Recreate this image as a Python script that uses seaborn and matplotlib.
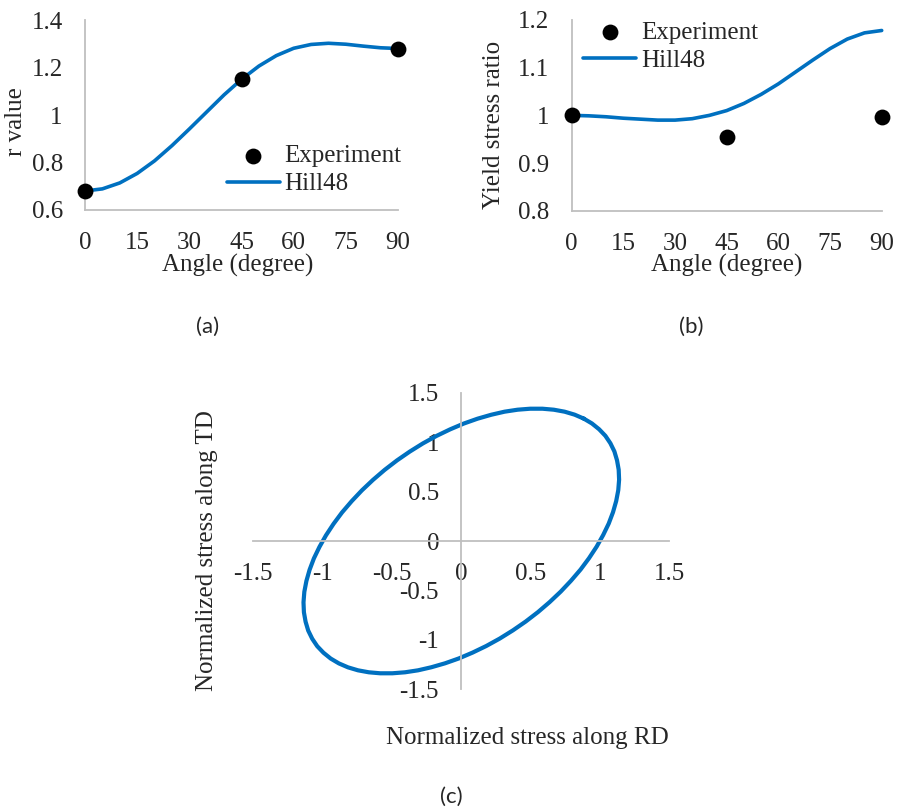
import matplotlib
matplotlib.use("Agg")
import matplotlib.pyplot as plt
import seaborn as sns
from matplotlib.ticker import FuncFormatter

# experiment (angle from RD, degree)
exp_angle = [0, 45, 90]
exp_r = [0.68, 1.15, 1.28]
exp_ys = [1.0, 0.955, 0.997]

# Hill48 curves, read every 5 degrees
hill_angle = [0, 5, 10, 15, 20, 25, 30, 35, 40, 45, 50, 55, 60, 65, 70, 75, 80, 85, 90]
hill_r = [0.680, 0.689, 0.714, 0.754, 0.807, 0.871, 0.941, 1.013, 1.085, 1.150,
          1.206, 1.250, 1.281, 1.297, 1.302, 1.298, 1.290, 1.283, 1.280]
hill_ys = [1.000, 0.999, 0.997, 0.994, 0.992, 0.990, 0.990, 0.993, 1.000, 1.010,
           1.025, 1.044, 1.066, 1.091, 1.116, 1.140, 1.160, 1.173, 1.178]

# Hill48 yield locus (normalized stresses), traced around the curve
locus_rd = [0.883, 0.817, 0.745, 0.667, 0.585, 0.497, 0.406, 0.312, 0.216, 0.117,
            0.018, -0.081, -0.180, -0.277, -0.372, -0.464, -0.553, -0.637, -0.717,
            -0.791, -0.860, -0.921, -0.976, -1.023, -1.063, -1.094, -1.117, -1.132,
            -1.138, -1.135, -1.123, -1.104, -1.075, -1.039, -0.994, -0.942,
            -0.883, -0.817, -0.745, -0.667, -0.585, -0.497, -0.406, -0.312, -0.216,
            -0.117, -0.018, 0.081, 0.180, 0.277, 0.372, 0.464, 0.553, 0.637, 0.717,
            0.791, 0.860, 0.921, 0.976, 1.023, 1.063, 1.094, 1.117, 1.132,
            1.138, 1.135, 1.123, 1.104, 1.075, 1.039, 0.994, 0.942, 0.883]
locus_td = [1.238, 1.278, 1.308, 1.328, 1.338, 1.338, 1.328, 1.308, 1.277, 1.237,
            1.188, 1.129, 1.062, 0.987, 0.904, 0.815, 0.719, 0.618, 0.512,
            0.402, 0.289, 0.174, 0.057, -0.060, -0.176, -0.291, -0.404, -0.514,
            -0.620, -0.721, -0.816, -0.906, -0.989, -1.064, -1.130, -1.189,
            -1.238, -1.278, -1.308, -1.328, -1.338, -1.338, -1.328, -1.308, -1.277,
            -1.237, -1.188, -1.129, -1.062, -0.987, -0.904, -0.815, -0.719, -0.618,
            -0.512, -0.402, -0.289, -0.174, -0.057, 0.060, 0.176, 0.291, 0.404,
            0.514, 0.620, 0.721, 0.816, 0.906, 0.989, 1.064, 1.130, 1.189, 1.238]

angle_ticks = [0, 15, 30, 45, 60, 75, 90]
r_ticks = [0.6, 0.8, 1.0, 1.2, 1.4]
ys_ticks = [0.8, 0.9, 1.0, 1.1, 1.2]
stress_ticks = [-1.5, -1.0, -0.5, 0.0, 0.5, 1.0, 1.5]

BLUE = "#0070C0"
GREY = "#BFBFBF"

sns.set_style("white")
plt.rcParams["font.family"] = ["Liberation Serif", "DejaVu Serif"]
plt.rcParams["font.size"] = 18

W, H = 898, 810
fig = plt.figure(figsize=(W / 100, H / 100), dpi=100)


def px_axes(left, top, right, bottom):
    return fig.add_axes([left / W, 1 - bottom / H, (right - left) / W, (bottom - top) / H])


def style_axes(ax):
    for side in ["top", "right"]:
        ax.spines[side].set_visible(False)
    for side in ["left", "bottom"]:
        ax.spines[side].set_color(GREY)
        ax.spines[side].set_linewidth(1.3)
    ax.tick_params(length=0, pad=16, labelsize=18)
    ax.xaxis.set_major_formatter(FuncFormatter(lambda v, p: f"{v:g}"))
    ax.yaxis.set_major_formatter(FuncFormatter(lambda v, p: f"{v:g}"))
    ax.set_xlabel("")
    ax.set_ylabel("")


def angle_panel(ax, exp_vals, hill_vals, ylim, yticks, legend_xy):
    sns.lineplot(x=hill_angle, y=hill_vals, color=BLUE, linewidth=2.6,
                 label="Hill48", ax=ax, clip_on=False)
    sns.scatterplot(x=exp_angle, y=exp_vals, color="black", s=130, linewidth=0,
                    label="Experiment", ax=ax, clip_on=False, zorder=3)
    ax.set_xlim(0, 90)
    ax.set_ylim(*ylim)
    ax.set_xticks(angle_ticks)
    ax.set_yticks(yticks)
    style_axes(ax)
    h, l = ax.get_legend_handles_labels()
    ax.legend([h[1], h[0]], [l[1], l[0]], loc="center left", bbox_to_anchor=legend_xy,
              frameon=False, borderpad=0, borderaxespad=0, handlelength=2.1,
              handletextpad=0.2, labelspacing=0.22, fontsize=18)


# (a) r value
ax_a = px_axes(85, 20, 398, 210)
angle_panel(ax_a, exp_r, hill_r, (0.6, 1.4), r_ticks, (0.4537, 0.2105))

# (b) yield stress ratio
ax_b = px_axes(571.7, 20, 881.7, 210.7)
angle_panel(ax_b, exp_ys, hill_ys, (0.8, 1.2), ys_ticks, (0.0374, 0.86))

# (c) yield locus
ax_c = px_axes(253.3, 392.7, 669.3, 689.3)
sns.lineplot(x=locus_rd, y=locus_td, sort=False, estimator=None, color=BLUE,
             linewidth=3.0, ax=ax_c)
ax_c.set_xlim(-1.5, 1.5)
ax_c.set_ylim(-1.5, 1.5)
ax_c.set_xticks(stress_ticks)
ax_c.set_yticks(stress_ticks)
ax_c.spines["left"].set_position(("data", 0))
ax_c.spines["bottom"].set_position(("data", 0))
style_axes(ax_c)

# axis titles
fig.text(16 / W, 1 - 122 / H, "r value", rotation=90, ha="center", va="center")
fig.text(494 / W, 1 - 125 / H, "Yield stress ratio", rotation=90, ha="center", va="center")
fig.text(238 / W, 1 - 265 / H, "Angle (degree)", ha="center", va="center")
fig.text(726.7 / W, 1 - 265 / H, "Angle (degree)", ha="center", va="center")
fig.text(207.5 / W, 1 - 550.8 / H, "Normalized stress along TD", rotation=90,
         ha="center", va="center")
fig.text(527 / W, 1 - 738 / H, "Normalized stress along RD", ha="center", va="center")

# captions
for txt, x, y in [("(a)", 208, 327), ("(b)", 691.7, 327), ("(c)", 451, 797)]:
    fig.text(x / W, 1 - y / H, txt, ha="center", va="center", fontsize=16,
             family=["Lato", "DejaVu Sans"])

fig.savefig("out.png", dpi=100)
